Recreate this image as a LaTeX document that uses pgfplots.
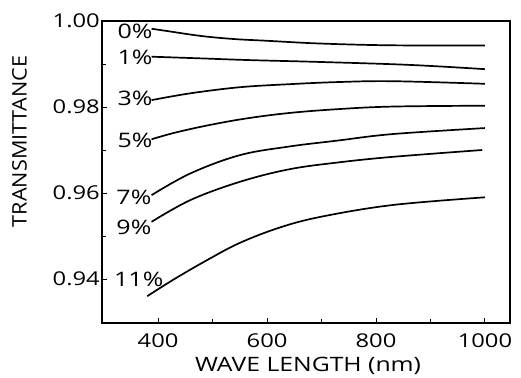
\documentclass[border=0pt]{standalone}
\usepackage{pgfplots}
\pgfplotsset{compat=1.18}
\usepackage{fontspec}
\setmainfont{Open Sans}[FakeStretch=1.25]
\newfontfamily\ylabfont{Open Sans}[FakeStretch=1.08]
\newcommand{\tfont}{\fontsize{19}{22}\selectfont}
\pgfplotsset{curve/.style={black, solid, line width=1.7pt, smooth, tension=0.6, mark=none}}
\begin{document}
\begin{tikzpicture}
\begin{axis}[
  scale only axis,
  width=408pt, height=302pt,
  xmin=297, xmax=1046,
  ymin=0.92977, ymax=1.00,
  xtick={400,600,800,1000},
  ytick={0.94,0.96,0.98,1.00},
  minor x tick num=1,
  minor y tick num=1,
  tick align=inside,
  xtick pos=bottom, ytick pos=left,
  major tick length=5pt, minor tick length=3.5pt,
  axis line style={line width=1.4pt},
  every tick/.style={black, line width=1pt},
  /pgf/number format/assume math mode=true,
  /pgf/number format/1000 sep={},
  yticklabel style={/pgf/number format/fixed, /pgf/number format/fixed zerofill, /pgf/number format/precision=2, font=\tfont, anchor=east, inner sep=0pt, xshift=-2pt},
  xticklabel style={font=\tfont, anchor=north, inner sep=0pt, yshift=-10.5pt},
  xlabel={WAVE LENGTH (nm)},
  ylabel={\ylabfont TRANSMITTANCE},
  xlabel style={font=\fontsize{19.8}{22}\selectfont, at={(axis description cs:0.505,-0.162)}, anchor=base, inner sep=0pt},
  ylabel style={font=\fontsize{20}{22}\selectfont, at={(axis description cs:-0.2022,0.601)}, anchor=center, inner sep=0pt},
  clip=false,
]
% 0%
\addplot[curve] coordinates {(388,0.9982) (420,0.9976) (480,0.9965) (540,0.9958) (600,0.9954) (690,0.9948) (800,0.9944) (900,0.9943) (1000,0.9943)};
% 1%
\addplot[curve] coordinates {(388,0.9917) (480,0.9913) (570,0.9909) (690,0.9905) (860,0.9898) (1000,0.9888)};
% 3%
\addplot[curve] coordinates {(388,0.9816) (460,0.9832) (550,0.9846) (640,0.9853) (730,0.9858) (830,0.9860) (1000,0.9854)};
% 5%
\addplot[curve] coordinates {(388,0.9725) (430,0.9740) (490,0.9757) (560,0.9773) (640,0.9786) (730,0.9795) (830,0.9801) (1000,0.9803)};
% 7%
\addplot[curve] coordinates {(388,0.9595) (460,0.9646) (550,0.9688) (640,0.9708) (730,0.9722) (830,0.9737) (1000,0.9751)};
% 9%
\addplot[curve] coordinates {(388,0.9533) (460,0.9584) (550,0.9626) (640,0.9655) (730,0.9671) (830,0.9684) (995,0.9700)};
% 11%
\addplot[curve] coordinates {(380,0.9360) (430,0.9400) (490,0.9444) (550,0.9484) (624,0.9520) (700,0.9545) (830,0.9572) (1000,0.9590)};
\begin{scope}[every node/.style={font=\fontsize{20}{22}\selectfont, anchor=east, inner sep=0pt}]
\node at (axis cs:390,0.9977) {0\%};
\node at (axis cs:390,0.9916) {1\%};
\node at (axis cs:390,0.9821) {3\%};
\node at (axis cs:390,0.9723) {5\%};
\node at (axis cs:388,0.9591) {7\%};
\node at (axis cs:388,0.9519) {9\%};
\node at (axis cs:410,0.9400) {11\%};
\end{scope}
\end{axis}
\pgfresetboundingbox
\path (current axis.south west) ++(-102pt,-54pt) rectangle ++(521pt,377pt);
\end{tikzpicture}
\end{document}
